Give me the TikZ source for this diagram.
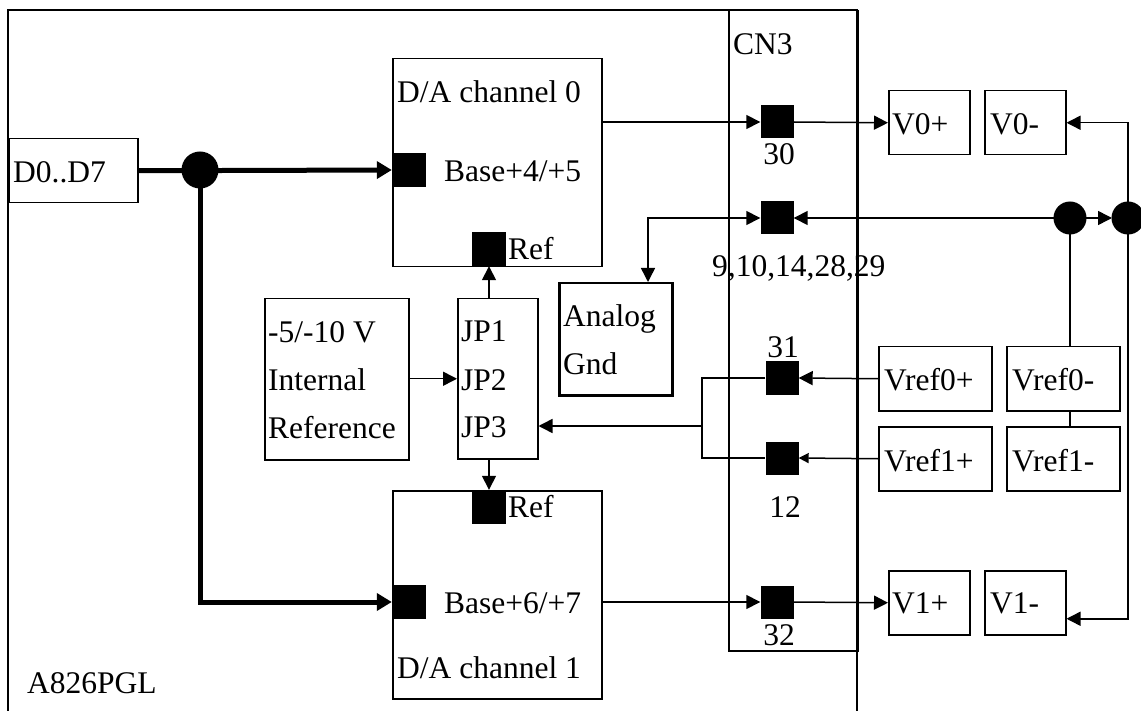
\documentclass[tikz,border=0pt]{standalone}
\usepackage{fontspec}
\setmainfont{Liberation Serif}
\usetikzlibrary{arrows.meta,calc}
\begin{document}
\begin{tikzpicture}[x=1pt,y=-1pt,
  box/.style={draw, line width=1.5pt, inner sep=0, anchor=north west},
  pin/.style={fill=black, draw=none, minimum size=34pt, inner sep=0},
  dot/.style={circle, fill=black, inner sep=0},
  lbl/.style={inner sep=0, anchor=base west, font=\fontsize{31.5}{36}\selectfont},
  clbl/.style={lbl, anchor=base},
  wire/.style={line width=1.5pt, -{Triangle[length=14pt,width=14pt]}},
  bothwire/.style={line width=1.5pt, {Triangle[length=14pt,width=14pt]}-{Triangle[length=14pt,width=14pt]}},
  plain/.style={line width=1.5pt},
  heavy/.style={line width=2.5pt},
  thickwire/.style={line width=5pt, -{Triangle[length=15pt,width=17pt]}},
  thickline/.style={line width=5pt}]
\useasboundingbox (0,0) rectangle (1141,711);
\fill[white] (0,0) rectangle (1141,711);

% outer board and connector
\draw[plain] (8,720) -- (8,10) -- (857,10) -- (857,720);
\node[box, minimum width=129pt, minimum height=640pt] (cn3) at (728,10) {};

% boxes
\node[box, minimum width=129pt, minimum height=64pt] (d07) at (8,138) {};
\node[box, minimum width=209pt, minimum height=208pt] (da0) at (392,58) {};
\node[box, minimum width=209pt, minimum height=208pt] (da1) at (392,490) {};
\node[box, minimum width=80pt, minimum height=160pt] (jp) at (457,298) {};
\node[box, minimum width=144pt, minimum height=161pt] (intref) at (264,298) {};
\node[box, line width=2.5pt, minimum width=113pt, minimum height=112pt] (agnd) at (558,282) {};
\node[box, minimum width=81pt, minimum height=64pt] (v0p) at (888,90) {};
\node[box, minimum width=81pt, minimum height=64pt] (v0m) at (984,90) {};
\node[box, minimum width=81pt, minimum height=64pt] (v1p) at (888,570) {};
\node[box, minimum width=81pt, minimum height=64pt] (v1m) at (984,570) {};
\node[box, minimum width=113pt, minimum height=64pt] (vref0p) at (878,346) {};
\node[box, minimum width=113pt, minimum height=64pt] (vref0m) at (1006,346) {};
\node[box, minimum width=113pt, minimum height=64pt] (vref1p) at (878,426) {};
\node[box, minimum width=113pt, minimum height=64pt] (vref1m) at (1006,426) {};

% pins
\node[pin] (in0) at (409,170) {};
\node[pin] (ref0) at (489,249) {};
\node[pin] (in1) at (409,602) {};
\node[pin] (ref1) at (489,507) {};
\node[pin, minimum size=33pt] (sq30) at (777,122) {};
\node[pin, minimum size=33pt] (sqg) at (777,218) {};
\node[pin, minimum size=33pt] (sq31) at (782,378) {};
\node[pin, minimum size=33pt] (sq12) at (782,458) {};
\node[pin, minimum size=33pt] (sq32) at (777,602) {};

\coordinate (gj) at (648,218);
\coordinate (br) at (702,426);
\coordinate (dApos) at (1070,218);
\coordinate (dBpos) at (1128,218);

% wires
\draw[thickwire] (d07.east) -- (in0.west);
\draw[thickwire] (200,170) |- (in1.west);
\draw[wire] (da0.east |- sq30.west) -- (sq30.west);
\draw[wire] (sq30.east) -- (v0p.west);
\draw[bothwire] (gj |- agnd.north) |- (sqg.west);
\draw[wire] (dApos) -- (sqg.east);
\draw[wire] (dApos) -- ([xshift=-16pt]dBpos);
\draw[wire] (dBpos) |- (v0m.east);
\draw[wire] (dBpos) |- ([yshift=-16pt]v1m.east);
\draw[heavy] (dApos) -- (dApos |- vref0m.north);
\draw[heavy] (dApos |- vref0m.south) -- (dApos |- vref1m.north);
\draw[wire] (vref0p.west) -- (sq31.east);
\draw[line width=1.5pt, -{Triangle[length=10pt,width=10pt]}] (vref1p.west) -- (sq12.east);
\draw[heavy] (sq31.west) -| (br) |- (sq12.west);
\draw[wire] (br) -- (jp.east |- br);
\draw[wire] (intref.east |- jp.west) -- (jp.west);
\draw[wire] (ref0 |- jp.north) -- (ref0.south);
\draw[wire] (ref1 |- jp.south) -- (ref1.north);
\draw[wire] (da1.east |- sq32.west) -- (sq32.west);
\draw[wire] (sq32.east) -- (v1p.west);

% dots
\node[dot, minimum size=37pt] (dot1) at (200,170) {};
\node[dot, minimum size=33pt] (dotA) at (dApos) {};
\node[dot, minimum size=33pt] (dotB) at (dBpos) {};

% texts
\node[lbl] (t1) at (13,183) {D0..D7};
\node[lbl] (t2) at (397,103) {D/A channel 0};
\node[lbl] (t3) at (444,182) {Base+4/+5};
\node[lbl] (t4) at (508,260) {Ref};
\node[lbl] (t5) at (733,55) {CN3};
\node[clbl] (t6) at (779,165) {30};
\node[lbl] (t7) at (712,277) {9,10,14,28,29};
\node[clbl] (t8) at (783,358) {31};
\node[clbl] (t9) at (785,517) {12};
\node[clbl] (t10) at (779,645) {32};
\node[lbl] (t11) at (892,135) {V0+};
\node[lbl] (t12) at (990,135) {V0-};
\node[lbl] (t13) at (892,613) {V1+};
\node[lbl] (t14) at (990,613) {V1-};
\node[lbl] (t15) at (884,390) {Vref0+};
\node[lbl] (t16) at (1012,390) {Vref0-};
\node[lbl] (t17) at (884,471) {Vref1+};
\node[lbl] (t18) at (1012,471) {Vref1-};
\node[lbl] (t19) at (563,327) {Analog};
\node[lbl] (t20) at (563,374) {Gnd};
\node[lbl] (t21) at (461,342) {JP1};
\node[lbl] (t22) at (461,390) {JP2};
\node[lbl] (t23) at (461,437) {JP3};
\node[lbl] (t24) at (268,343) {-5/-10 V};
\node[lbl] (t25) at (268,390) {Internal};
\node[lbl] (t26) at (268,438) {Reference};
\node[lbl] (t27) at (508,517) {Ref};
\node[lbl] (t28) at (444,613) {Base+6/+7};
\node[lbl] (t29) at (397,678) {D/A channel 1};
\node[lbl] (t30) at (27,693) {A826PGL};
\end{tikzpicture}
\end{document}
